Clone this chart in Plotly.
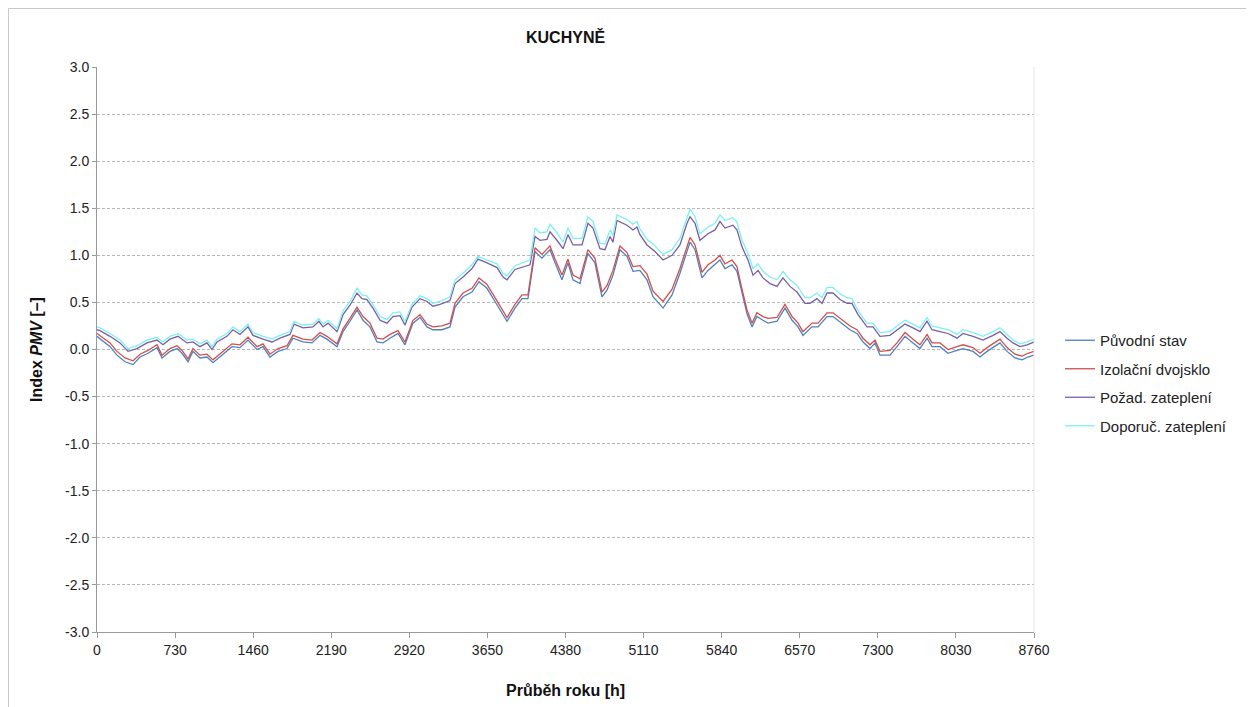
import plotly.graph_objects as go

# ---- data ----
x_low = [0, 122, 187, 262, 337, 402, 477, 561, 608, 682, 748, 795, 851, 897, 963, 1028, 1084, 1169,
         1262, 1337, 1412, 1496, 1552, 1617, 1692, 1776, 1832, 1926, 2010, 2085, 2150, 2244, 2300,
         2365, 2431, 2487, 2552, 2618, 2674, 2739, 2814, 2879, 2954, 3020, 3085, 3141, 3225, 3300,
         3347, 3422, 3506, 3571, 3646, 3721, 3786, 3833, 3908, 3973, 4029, 4095, 4160, 4235, 4282,
         4347, 4403, 4450, 4515, 4590, 4655, 4721, 4768, 4824, 4889, 4955, 5011, 5076, 5142, 5198,
         5292, 5376, 5450, 5544, 5591, 5656, 5712, 5778, 5824, 5871, 5937, 5983, 6030, 6077, 6124,
         6170, 6226, 6273, 6357, 6432, 6498, 6554, 6600, 6684, 6741, 6825, 6881, 6965, 7040, 7105,
         7162, 7227, 7274, 7320, 7414, 7479, 7554, 7629, 7694, 7760, 7806, 7881, 7956, 8040, 8096,
         8190, 8255, 8321, 8442, 8508, 8582, 8648, 8704, 8760]

puvodni = [0.14, 0.03, -0.06, -0.13, -0.16, -0.08, -0.04, 0.02, -0.09, -0.02, 0.01, -0.04, -0.13,
           -0.02, -0.09, -0.08, -0.14, -0.06, 0.03, 0.02, 0.10, 0.00, 0.03, -0.08, -0.02, 0.01, 0.12,
           0.08, 0.07, 0.15, 0.11, 0.03, 0.19, 0.30, 0.42, 0.31, 0.24, 0.08, 0.07, 0.12, 0.17, 0.05,
           0.28, 0.34, 0.24, 0.21, 0.21, 0.24, 0.45, 0.56, 0.61, 0.72, 0.65, 0.51, 0.38, 0.30, 0.44,
           0.54, 0.54, 1.04, 0.97, 1.06, 0.92, 0.74, 0.92, 0.74, 0.70, 1.02, 0.92, 0.56, 0.63, 0.79,
           1.06, 0.99, 0.83, 0.84, 0.74, 0.56, 0.44, 0.58, 0.81, 1.14, 1.06, 0.76, 0.84, 0.90, 0.95,
           0.86, 0.90, 0.83, 0.60, 0.38, 0.24, 0.35, 0.31, 0.28, 0.30, 0.44, 0.31, 0.24, 0.15, 0.24,
           0.24, 0.35, 0.35, 0.28, 0.21, 0.17, 0.08, 0.01, 0.07, -0.06, -0.06, 0.03, 0.14, 0.07, 0.01,
           0.12, 0.03, 0.03, -0.04, -0.01, 0.01, -0.02, -0.08, -0.02, 0.07, -0.02, -0.09, -0.11, -0.08,
           -0.06]

izolacni = [0.17, 0.07, -0.02, -0.09, -0.12, -0.05, -0.01, 0.05, -0.06, 0.01, 0.04, -0.01, -0.10,
            0.01, -0.06, -0.05, -0.11, -0.03, 0.06, 0.05, 0.13, 0.03, 0.06, -0.05, 0.01, 0.04, 0.15,
            0.11, 0.10, 0.18, 0.14, 0.06, 0.22, 0.33, 0.45, 0.35, 0.28, 0.12, 0.11, 0.16, 0.20, 0.08,
            0.31, 0.37, 0.27, 0.24, 0.25, 0.28, 0.49, 0.60, 0.65, 0.76, 0.69, 0.55, 0.42, 0.34, 0.48,
            0.58, 0.58, 1.08, 1.01, 1.10, 0.96, 0.79, 0.96, 0.79, 0.75, 1.06, 0.97, 0.61, 0.68, 0.84,
            1.10, 1.03, 0.88, 0.89, 0.80, 0.62, 0.51, 0.64, 0.86, 1.19, 1.11, 0.82, 0.90, 0.95, 1.00,
            0.91, 0.95, 0.88, 0.64, 0.42, 0.28, 0.39, 0.35, 0.33, 0.34, 0.48, 0.35, 0.28, 0.19, 0.28,
            0.28, 0.39, 0.39, 0.32, 0.25, 0.21, 0.12, 0.05, 0.10, -0.02, -0.01, 0.07, 0.18, 0.11, 0.05,
            0.16, 0.07, 0.07, 0.00, 0.03, 0.05, 0.02, -0.04, 0.02, 0.11, 0.02, -0.05, -0.07, -0.04,
            -0.02]

x_up = [0, 28, 122, 215, 290, 374, 467, 561, 617, 682, 757, 841, 897, 963, 1028, 1075, 1122, 1215,
        1271, 1337, 1412, 1458, 1552, 1636, 1711, 1804, 1842, 1926, 2019, 2075, 2113, 2160, 2244,
        2300, 2365, 2431, 2477, 2524, 2580, 2646, 2711, 2767, 2833, 2879, 2945, 3020, 3085, 3141,
        3207, 3300, 3347, 3422, 3506, 3562, 3646, 3740, 3796, 3833, 3908, 3973, 4048, 4095, 4142,
        4207, 4235, 4300, 4357, 4403, 4450, 4534, 4590, 4637, 4702, 4749, 4796, 4824, 4861, 4955,
        5011, 5048, 5076, 5142, 5217, 5292, 5376, 5450, 5516, 5544, 5591, 5637, 5712, 5778, 5824,
        5871, 5946, 5983, 6030, 6086, 6133, 6180, 6226, 6292, 6357, 6413, 6479, 6544, 6619, 6666,
        6731, 6778, 6825, 6881, 6946, 7012, 7058, 7115, 7199, 7255, 7320, 7414, 7479, 7554, 7629,
        7694, 7760, 7806, 7881, 7956, 8040, 8096, 8190, 8283, 8377, 8442, 8508, 8564, 8629, 8695,
        8760]

pozad = [0.21, 0.20, 0.14, 0.07, -0.02, 0.01, 0.07, 0.10, 0.05, 0.11, 0.14, 0.07, 0.08, 0.03, 0.07,
         0.00, 0.08, 0.14, 0.21, 0.16, 0.24, 0.15, 0.11, 0.08, 0.12, 0.16, 0.27, 0.23, 0.24, 0.30,
         0.24, 0.28, 0.19, 0.37, 0.47, 0.60, 0.54, 0.53, 0.44, 0.31, 0.28, 0.35, 0.36, 0.26, 0.45,
         0.54, 0.51, 0.46, 0.48, 0.52, 0.70, 0.77, 0.86, 0.96, 0.92, 0.87, 0.77, 0.74, 0.85, 0.87,
         0.90, 1.20, 1.16, 1.17, 1.25, 1.16, 1.07, 1.22, 1.11, 1.11, 1.34, 1.29, 1.07, 1.06, 1.20,
         1.14, 1.37, 1.32, 1.27, 1.30, 1.22, 1.11, 1.04, 0.95, 1.00, 1.11, 1.34, 1.41, 1.34, 1.16,
         1.23, 1.27, 1.36, 1.29, 1.32, 1.27, 1.09, 0.95, 0.79, 0.84, 0.76, 0.70, 0.67, 0.76, 0.67,
         0.61, 0.49, 0.49, 0.54, 0.49, 0.60, 0.60, 0.53, 0.49, 0.49, 0.37, 0.24, 0.24, 0.14, 0.15,
         0.21, 0.27, 0.23, 0.19, 0.30, 0.21, 0.19, 0.17, 0.12, 0.17, 0.14, 0.10, 0.15, 0.19, 0.12,
         0.07, 0.03, 0.05, 0.08]

doporuc = [0.24, 0.23, 0.17, 0.10, 0.01, 0.04, 0.10, 0.13, 0.08, 0.14, 0.17, 0.10, 0.11, 0.06, 0.10,
           0.03, 0.11, 0.17, 0.24, 0.19, 0.27, 0.18, 0.14, 0.11, 0.15, 0.19, 0.30, 0.26, 0.27, 0.33,
           0.27, 0.31, 0.22, 0.41, 0.51, 0.65, 0.58, 0.57, 0.48, 0.35, 0.32, 0.39, 0.40, 0.30, 0.48,
           0.57, 0.54, 0.49, 0.51, 0.56, 0.74, 0.81, 0.90, 0.99, 0.95, 0.91, 0.81, 0.78, 0.89, 0.92,
           0.95, 1.29, 1.24, 1.25, 1.33, 1.24, 1.14, 1.29, 1.18, 1.18, 1.41, 1.36, 1.13, 1.12, 1.27,
           1.21, 1.43, 1.38, 1.33, 1.36, 1.28, 1.17, 1.10, 1.01, 1.06, 1.18, 1.41, 1.49, 1.41, 1.23,
           1.30, 1.34, 1.43, 1.37, 1.40, 1.35, 1.16, 1.02, 0.86, 0.91, 0.83, 0.77, 0.74, 0.83, 0.74,
           0.68, 0.55, 0.55, 0.60, 0.55, 0.66, 0.66, 0.59, 0.55, 0.54, 0.41, 0.28, 0.28, 0.18, 0.19,
           0.25, 0.31, 0.27, 0.23, 0.34, 0.25, 0.23, 0.21, 0.16, 0.21, 0.18, 0.14, 0.19, 0.23, 0.16,
           0.10, 0.06, 0.08, 0.11]

x_ticks = [0, 730, 1460, 2190, 2920, 3650, 4380, 5110, 5840, 6570, 7300, 8030, 8760]
y_ticks = [-3.0, -2.5, -2.0, -1.5, -1.0, -0.5, 0.0, 0.5, 1.0, 1.5, 2.0, 2.5, 3.0]
x_max = 8760

series = [
    ("Původní stav", x_low, puvodni, "#4F81BD"),
    ("Izolační dvojsklo", x_low, izolacni, "#D0504D"),
    ("Požad. zateplení", x_up, pozad, "#7560A8"),
    ("Doporuč. zateplení", x_up, doporuc, "#7FF0F0"),
]

FONT = "Liberation Sans, Arial, sans-serif"

fig = go.Figure()
for i, (name, xs, ys, col) in enumerate(series):
    fig.add_trace(go.Scatter(x=xs, y=ys, mode="lines", name=name,
                             line=dict(color=col, width=1.3),
                             legendgroup=f"g{i}"))

# page has an 8px body margin; figure is offset by it
OFF = 8
W, H = 1246, 699
L, R, T, B = 89, 220, 59, 75
pw = W - L - R
ph = H - T - B

def px_x(p):  # page pixel -> paper x
    return (p - OFF - L) / pw

def px_y(p):  # page pixel -> paper y
    return (H - B - (p - OFF)) / ph

fig.update_layout(
    width=W, height=H,
    margin=dict(l=L, r=R, t=T, b=B),
    paper_bgcolor="white", plot_bgcolor="white",
    font=dict(family=FONT, size=14, color="#222222"),
    showlegend=True,
    legend=dict(x=px_x(1060), y=px_y(383), xanchor="left", yanchor="middle",
                font=dict(family=FONT, size=15, color="#222222"),
                traceorder="grouped", tracegroupgap=6,
                bgcolor="rgba(0,0,0,0)", itemwidth=30),
    xaxis=dict(range=[0, x_max], tickmode="array", tickvals=x_ticks,
               ticktext=[str(v) for v in x_ticks],
               showgrid=False, zeroline=False,
               showline=True, linecolor="#9a9a9a", linewidth=1,
               ticks="outside", ticklen=5, tickcolor="#9a9a9a",
               tickfont=dict(family=FONT, size=14, color="#222222")),
    yaxis=dict(range=[-3.0, 3.0], tickmode="array", tickvals=y_ticks,
               ticktext=[f"{v:.1f}" for v in y_ticks],
               showgrid=True, gridcolor="#b8b8b8", griddash="3px,2px", gridwidth=1,
               zeroline=False,
               showline=True, linecolor="#9a9a9a", linewidth=1,
               ticks="outside", ticklen=4, tickcolor="#9a9a9a",
               tickfont=dict(family=FONT, size=14, color="#222222")),
    annotations=[
        dict(text="<b>KUCHYNĚ</b>", xref="paper", yref="paper",
             x=0.5, y=px_y(37), xanchor="center", yanchor="middle",
             showarrow=False, font=dict(family=FONT, size=16, color="#111111")),
        dict(text="<b>Průběh roku [h]</b>", xref="paper", yref="paper",
             x=0.5, y=px_y(690), xanchor="center", yanchor="middle",
             showarrow=False, font=dict(family=FONT, size=16, color="#111111")),
        dict(text="<b>Index <i>PMV</i> [–]</b>", xref="paper", yref="paper",
             x=px_x(36), y=px_y(350), xanchor="center", yanchor="middle",
             textangle=-90,
             showarrow=False, font=dict(family=FONT, size=16, color="#111111")),
    ],
    shapes=[
        dict(type="rect", xref="paper", yref="paper",
             x0=px_x(8.5), x1=px_x(1247), y0=px_y(720), y1=px_y(8.5),
             line=dict(color="#c8c8c8", width=1), fillcolor="rgba(0,0,0,0)",
             layer="below"),
        dict(type="line", xref="paper", yref="paper",
             x0=1, x1=1, y0=0, y1=1,
             line=dict(color="#e6e6e6", width=1)),
    ],
)

fig.write_html("out.html")
